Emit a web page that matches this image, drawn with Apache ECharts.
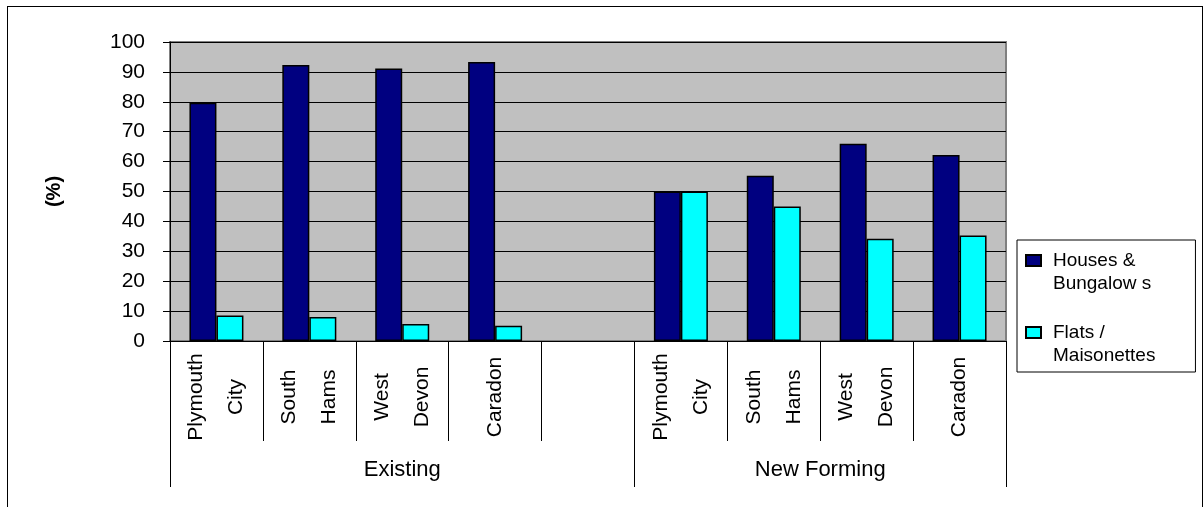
<!DOCTYPE html>
<html>
<head>
<meta charset="utf-8">
<script src="https://cdn.jsdelivr.net/npm/echarts@6/dist/echarts.min.js"></script>
<style>
  html, body { margin: 0; padding: 0; background: #fff; }
  #wrap { position: relative; width: 1204px; height: 507px; overflow: hidden; }
  #chart { position: absolute; left: 0; top: 0; width: 1204px; height: 507px; }
  #frame { position: absolute; left: 7px; top: 6px; width: 1194px; height: 520px;
           border: 1.5px solid #000; pointer-events: none; }
</style>
</head>
<body>
<div id="wrap">
  <div id="chart"></div>
  <div id="frame"></div>
</div>
<script>
// Dwelling type share by district, existing stock vs newly forming households
const districts = ['Plymouth\nCity', 'South\nHams', 'West\nDevon', 'Caradon', '',
                   'Plymouth\nCity', 'South\nHams', 'West\nDevon', 'Caradon'];
const groups = ['Existing', 'New Forming'];
const groupCenters = [2.5, 7];
const groupBounds = [0, 5, 9];
const yTicks = [0, 10, 20, 30, 40, 50, 60, 70, 80, 90, 100];

const houses = [79.7, 92.3, 91.1, 93.3, null, 50, 55.3, 66, 62.2];
const flats  = [8.5, 8.0, 5.7, 5.1, null, 50, 45, 34.2, 35.3];

const seriesNames = ['Houses &\nBungalow s', 'Flats /\nMaisonettes'];

// Legend key: a small square level with the first line of a two-line entry
// (the invisible moves stretch the icon box so the square sits at the top left)
const keyIcon = 'path://M0,0 M22,46 M0,6 L15,6 L15,17 L0,17 Z';

const chart = echarts.init(document.getElementById('chart'), null, { renderer: 'canvas' });

const barStyle = (color) => ({ color: color, borderColor: '#000', borderWidth: 1.5 });

chart.setOption({
  animation: false,
  grid: {
    left: 170, right: 198, top: 42, bottom: 166,
    show: true, backgroundColor: '#C0C0C0', borderColor: '#808080', borderWidth: 2
  },
  legend: {
    orient: 'vertical',
    left: 1017, top: 240,
    backgroundColor: '#fff',
    borderColor: '#000', borderWidth: 1,
    padding: [8, 40, 4, 8],
    icon: keyIcon,
    itemWidth: 22, itemHeight: 46, itemGap: 24,
    data: seriesNames,
    textStyle: {
      fontFamily: 'Liberation Sans, Arial, sans-serif', fontSize: 19, color: '#000',
      lineHeight: 23
    }
  },
  xAxis: [
    {
      type: 'category',
      data: districts,
      position: 'bottom',
      axisLine: { show: true, lineStyle: { color: '#000', width: 1 } },
      axisTick: { show: true, interval: 0, length: 100, lineStyle: { color: '#000', width: 1 } },
      axisLabel: {
        interval: 0, rotate: 90, align: 'center', verticalAlign: 'middle',
        margin: 56, lineHeight: 40, padding: [0, 0, 18, 0],
        fontFamily: 'Liberation Sans Narrow, Liberation Sans, Arial, sans-serif',
        fontSize: 21, color: '#000'
      },
      splitLine: { show: false }
    },
    {
      type: 'value',
      min: 0, max: 9,
      position: 'bottom',
      axisLine: { show: false },
      splitLine: { show: false },
      axisTick: {
        show: true, length: 146, customValues: groupBounds,
        lineStyle: { color: '#000', width: 1 }
      },
      axisLabel: {
        show: true, customValues: groupCenters, margin: 129,
        verticalAlign: 'middle',
        formatter: (v) => groups[groupCenters.indexOf(v)] || '',
        fontFamily: 'Liberation Sans, Arial, sans-serif', fontSize: 22, color: '#000'
      }
    }
  ],
  yAxis: {
    type: 'value',
    min: 0, max: 100, interval: 10,
    name: '(%)',
    nameLocation: 'middle',
    nameGap: 106,
    nameTextStyle: { fontFamily: 'Liberation Sans, Arial, sans-serif', fontSize: 20, fontWeight: 'bold', color: '#000' },
    axisLine: { show: true, lineStyle: { color: '#000', width: 1 } },
    axisTick: { show: true, length: 7, lineStyle: { color: '#000' } },
    axisLabel: {
      margin: 25, color: '#000',
      fontFamily: 'Liberation Sans, Arial, sans-serif', fontSize: 21,
      formatter: (v) => (yTicks.indexOf(v) >= 0 ? String(v) : '')
    },
    splitLine: { show: true, lineStyle: { color: '#000', width: 1 } }
  },
  series: [
    {
      name: seriesNames[0], type: 'bar', xAxisIndex: 0,
      data: houses, barWidth: 27, barGap: '0%',
      itemStyle: barStyle('#000080')
    },
    {
      name: seriesNames[1], type: 'bar', xAxisIndex: 0,
      data: flats, barWidth: 27, barGap: '0%',
      itemStyle: barStyle('#00FFFF')
    }
  ]
});
</script>
</body>
</html>
